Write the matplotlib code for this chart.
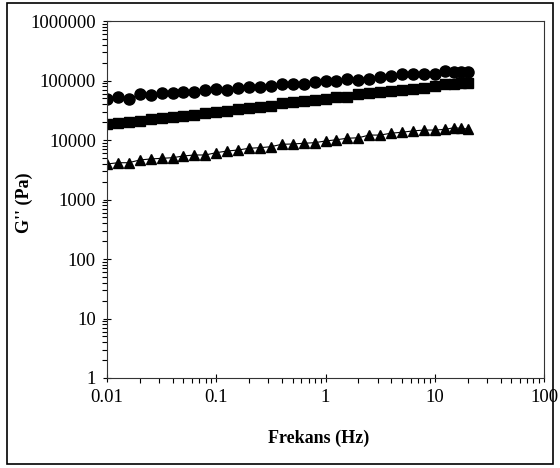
import matplotlib
matplotlib.use("Agg")
import matplotlib.pyplot as plt
from matplotlib.patches import Rectangle
from matplotlib.ticker import FixedLocator, LogLocator, NullFormatter

freq = [0.01, 0.0126, 0.0158, 0.02, 0.0251, 0.0316, 0.0398, 0.0501, 0.0631, 0.0794,
        0.1, 0.126, 0.158, 0.2, 0.251, 0.316, 0.398, 0.501, 0.631, 0.794,
        1, 1.26, 1.58, 2, 2.51, 3.16, 3.98, 5.01, 6.31, 7.94,
        10, 12.5, 15, 17.5, 20]

g_circle = [48900, 52200, 48900, 58600, 56400, 60900, 62400, 64100, 64800, 69200,
            71100, 69200, 74000, 78700, 78700, 80900, 86300, 86300, 86300, 95500,
            98100, 98100, 106000, 102000, 106000, 116000, 120000, 127000, 127000, 127000,
            127000, 144500, 137000, 137000, 137000]

g_square = [18400, 19500, 19800, 21100, 22500, 23200, 24600, 25600, 26000, 28800,
            29900, 31100, 32800, 34900, 35900, 37700, 42400, 43500, 45800, 47000,
            48500, 52800, 53400, 58600, 62400, 64800, 67400, 69200, 72800, 75700,
            81800, 86300, 88300, 89700, 91900]

g_triangle = [3950, 4150, 4150, 4620, 4800, 4920, 5040, 5390, 5600, 5600,
              6120, 6530, 6790, 7260, 7430, 7710, 8470, 8570, 8810, 9010,
              9620, 10100, 10700, 10900, 12100, 12100, 13000, 13500, 14200, 14700,
              14700, 15100, 16100, 15700, 15300]

x_ticks = [0.01, 0.1, 1, 10, 100]
x_labels = ["0.01", "0.1", "1", "10", "100"]
y_ticks = [1, 10, 100, 1000, 10000, 100000, 1000000]
y_labels = ["1", "10", "100", "1000", "10000", "100000", "1000000"]

plt.rcParams['font.family'] = ['Liberation Serif', 'DejaVu Serif']

fig = plt.figure(figsize=(5.6, 4.68), dpi=100)
ax = fig.add_axes([107/560, 1 - 378/468, (544-107)/560, (378-21)/468])

line_kw = dict(color='black', linewidth=0.8, markeredgecolor='black', markerfacecolor='black')
ax.plot(freq, g_circle, marker='o', markersize=8, **line_kw)
ax.plot(freq, g_square, marker='s', markersize=7.2, **line_kw)
ax.plot(freq, g_triangle, marker='^', markersize=7.8, **line_kw)

ax.set_xscale('log')
ax.set_yscale('log')
ax.set_xlim(0.01, 100)
ax.set_ylim(1, 1000000)

ax.xaxis.set_major_locator(FixedLocator(x_ticks))
ax.set_xticklabels(x_labels)
ax.yaxis.set_major_locator(FixedLocator(y_ticks))
ax.set_yticklabels(y_labels)
ax.xaxis.set_minor_locator(LogLocator(base=10, subs=range(2, 10), numticks=20))
ax.yaxis.set_minor_locator(LogLocator(base=10, subs=range(2, 10), numticks=20))
ax.xaxis.set_minor_formatter(NullFormatter())
ax.yaxis.set_minor_formatter(NullFormatter())

ax.tick_params(which='major', direction='inout', length=6, width=0.8, labelsize=13.5, pad=5, colors='black')
ax.tick_params(which='minor', direction='out', length=3.5, width=0.8)
ax.tick_params(top=False, right=False, which='both')

for s in ax.spines.values():
    s.set_color('#333333')
    s.set_linewidth(0.8)

ax.set_xlabel('Frekans (Hz)', fontsize=13, fontweight='bold')
ax.set_ylabel("G'' (Pa)", fontsize=13, fontweight='bold')
ax.xaxis.set_label_coords(0.485, -0.145)
ax.yaxis.set_label_coords(-0.17, 0.49)

fig.patches.append(Rectangle((7/560, 1 - 464/468), (553-7)/560, (464-3)/468,
                             transform=fig.transFigure, fill=False,
                             edgecolor='black', linewidth=1.2))

fig.savefig('out.png', dpi=100)
